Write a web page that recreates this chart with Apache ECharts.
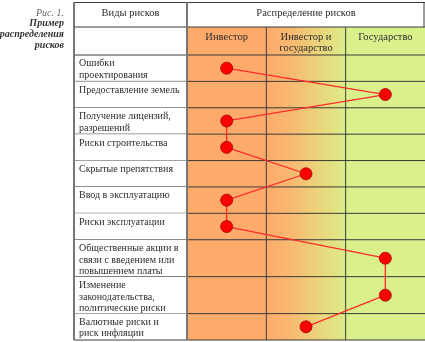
<!DOCTYPE html>
<html><head><meta charset="utf-8">
<script src="https://cdn.jsdelivr.net/npm/echarts@6/dist/echarts.min.js"></script>
<style>html,body{margin:0;padding:0;background:#fff}#c{width:425px;height:342px}</style>
</head><body><div id="c"></div>
<script>
// Kinds of risk (rows), with manual line breaks as set in the table
const risks = [
  'Ошибки\nпроектирования',
  'Предоставление земель',
  'Получение лицензий,\nразрешений',
  'Риски строительства',
  'Скрытые препятствия',
  'Ввод в эксплуатацию',
  'Риски эксплуатации',
  'Общественные акции в\nсвязи с введением или\nповышением платы',
  'Изменение\nзаконодательства,\nполитические риски',
  'Валютные риски и\nриск инфляции'
];
// Parties that can bear a risk (columns)
const parties = ['Инвестор', 'Инвестор и\nгосударство', 'Государство'];
// Index of the party bearing each risk
const bearer = [0, 2, 0, 0, 1, 0, 0, 2, 2, 1];
const headers = ['Виды рисков', 'Распределение рисков'];
const captionNo = 'Рис. 1.';
const captionTitle = 'Пример\nраспределения\nрисков';

// Row heights follow the number of text lines in each label
const rowSize = risks.map(r => Math.max(2, r.split('\n').length) + 0.5);
const rowStart = [];
let acc = 0;
rowSize.forEach(s => { rowStart.push(acc); acc += s; });
const total = acc;
const rowMid = rowStart.map((s, i) => s + rowSize[i] / 2);

const FONT = 'Liberation Serif';
const TXT = '#2e2e2e';
const LINE = '#3a3a3a';
const H1 = 25, H2 = 28;       // header row heights, px
const LABEL_W = 113;          // width of the risk-name column, px

const colFill = [
  '#fdaa6b',
  { type: 'linear', x: 0, y: 0, x2: 1, y2: 0, colorStops: [
    { offset: 0, color: '#fcab6c' },
    { offset: 0.3, color: '#f8b870' },
    { offset: 0.65, color: '#ead47b' },
    { offset: 1, color: '#dcec88' } ] },
  '#d9f08b'
];

function hline(x1, x2, y, color, w) {
  return { type: 'line', shape: { x1, y1: y, x2, y2: y }, style: { stroke: color || LINE, lineWidth: w || 1 } };
}
function vline(x, y1, y2, color, w) {
  return { type: 'line', shape: { x1: x, y1, x2: x, y2 }, style: { stroke: color || LINE, lineWidth: w || 1 } };
}

const chart = echarts.init(document.getElementById('c'), null, { renderer: 'canvas' });
chart.setOption({
  animation: false,
  backgroundColor: '#fff',
  textStyle: { fontFamily: FONT },
  grid: { left: 187, top: 2 + H1 + H2, width: 238, height: 285 },
  xAxis: { type: 'category', data: parties, boundaryGap: true, show: false },
  yAxis: { type: 'value', inverse: true, min: 0, max: total, show: false },
  graphic: [
    { type: 'text', x: 64, y: 8, style: { text: captionNo, font: 'italic 10px ' + FONT, fill: '#666', align: 'right', verticalAlign: 'top' } },
    { type: 'text', x: 64, y: 18, style: { text: captionTitle, font: 'italic bold 10px ' + FONT, fill: '#333', align: 'right', verticalAlign: 'top', lineHeight: 11 } }
  ],
  series: [
    { // column backgrounds and column headers
      type: 'custom', z: 1, silent: true, clip: false,
      data: parties.map((p, j) => [j]),
      renderItem(params, api) {
        const cs = params.coordSys;
        const j = params.dataIndex;
        const bw = cs.width / parties.length;
        const x0 = cs.x + j * bw;
        const top = cs.y - H2;
        const children = [
          { type: 'rect', shape: { x: x0, y: top, width: bw, height: cs.height + H2 }, style: { fill: colFill[j] } },
          { type: 'text', x: x0 + bw / 2, y: top + 5, style: { text: parties[j], font: '10.5px ' + FONT, fill: TXT, align: 'center', verticalAlign: 'top', lineHeight: 11 } }
        ];
        if (j > 0) children.push(vline(x0, top, cs.y + cs.height));
        return { type: 'group', children };
      }
    },
    { // risk rows: name cell and separator
      type: 'custom', z: 2, silent: true, clip: false,
      data: risks.map((r, i) => [i, rowStart[i], rowStart[i] + rowSize[i]]),
      renderItem(params, api) {
        const cs = params.coordSys;
        const i = params.dataIndex;
        const y0 = api.coord([0, api.value(1)])[1];
        const y1 = api.coord([0, api.value(2)])[1];
        const left = cs.x - LABEL_W;
        return { type: 'group', children: [
          { type: 'rect', shape: { x: left, y: y0, width: LABEL_W, height: y1 - y0 }, style: { fill: '#fff' } },
          { type: 'text', x: left + 5, y: y0 + 3, style: { text: risks[i], font: '10px ' + FONT, fill: TXT, align: 'left', verticalAlign: 'top', lineHeight: 11.5 } },
          hline(left, cs.x + cs.width, y1)
        ] };
      }
    },
    { // header frame
      type: 'custom', z: 3, silent: true, clip: false,
      data: [[0]],
      renderItem(params, api) {
        const cs = params.coordSys;
        const left = cs.x - LABEL_W;
        const right = cs.x + cs.width;
        const t0 = cs.y - H2 - H1, t1 = cs.y - H2;
        return { type: 'group', children: [
          { type: 'rect', shape: { x: left, y: t0, width: right - left, height: H1 }, style: { fill: '#fff' } },
          { type: 'rect', shape: { x: left, y: t1, width: LABEL_W, height: H2 }, style: { fill: '#fff' } },
          { type: 'text', x: left + LABEL_W / 2, y: t0 + H1 / 2 - 1.5, style: { text: headers[0], font: '10.5px ' + FONT, fill: TXT, align: 'center', verticalAlign: 'middle' } },
          { type: 'text', x: cs.x + cs.width / 2, y: t0 + H1 / 2 - 1.5, style: { text: headers[1], font: '10.5px ' + FONT, fill: TXT, align: 'center', verticalAlign: 'middle' } },
          hline(left, right, t0 + 0.5),
          hline(left, right, t1),
          hline(left, right, cs.y),
          vline(right - 1, t0, t1),
          vline(left, t0, cs.y + cs.height, '#777', 2),
          vline(cs.x, t0, cs.y + cs.height, '#777', 2)
        ] };
      }
    },
    { // who bears each risk
      type: 'line', z: 5,
      data: bearer.map((b, i) => [b, rowMid[i]]),
      symbol: 'circle', symbolSize: 12,
      itemStyle: { color: '#ff0000', borderColor: '#a30000', borderWidth: 0.8 },
      lineStyle: { color: '#ff2b2b', width: 1.3 }
    }
  ]
});
</script></body></html>
